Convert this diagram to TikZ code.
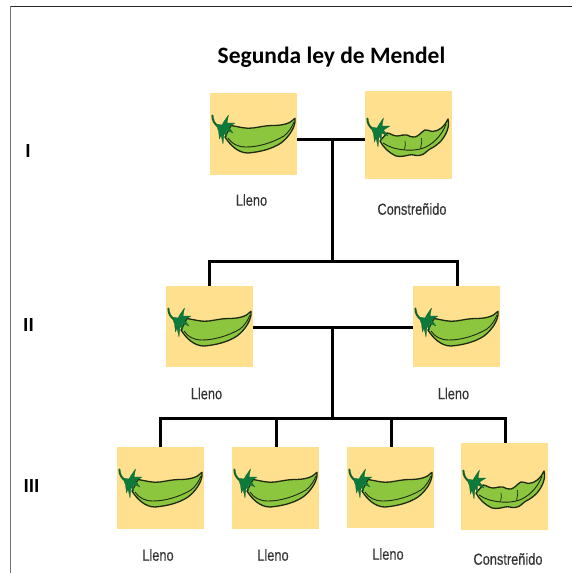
\documentclass[tikz,border=0pt]{standalone}
\usepackage{fontspec}
\setmainfont{Carlito}
\newfontfamily\labelfont[FakeStretch=0.8,FakeBold=0.3]{Liberation Sans}
\definecolor{podback}{HTML}{FEE08F}
\definecolor{podgreen}{HTML}{8CC63F}
\definecolor{calyx}{HTML}{0B7A3B}
\definecolor{podline}{HTML}{1E2A12}
\tikzset{
  x=1pt, y=-1pt,
  podbox/.style={fill=podback, draw=none, inner sep=0pt, anchor=north west},
  link/.style={line width=3pt, black},
  caption/.style={font=\labelfont\fontsize{16}{16}\selectfont, text=black!80, inner sep=0pt},
  generation/.style={font=\bfseries\fontsize{20}{20}\selectfont, inner sep=0pt},
  calyxstar/.pic={
    \draw[podline!30!calyx, line width=2pt, line cap=round] (2.4,22.5) .. controls (2.5,27) and (4,31) .. (9,34);
    \fill[calyx, draw=podline!30!calyx, line width=.3pt, line join=round]
      (6,31) -- (12,32) -- (14,28.5) -- (18.5,22) -- (17,30) -- (25,30) -- (18.5,34)
      -- (23,40) -- (16.5,37) -- (16.5,44) -- (14,40) -- (13,51) -- (11,42)
      -- (9.5,46) -- (8.5,38) -- cycle;
  },
  smoothpod/.pic={
    \fill[podgreen, draw=podline, line width=1.3pt, line join=round]
      (21,32.5) .. controls (30,34) and (36,36) .. (43,35)
      .. controls (50,34) and (56,32.5) .. (62,32.5)
      .. controls (72,32.5) and (80,31) .. (85,25.3)
      .. controls (86,33) and (80,43) .. (71,50)
      .. controls (62,56) and (50,59) .. (38,60)
      .. controls (28,60) and (20,52) .. (15,44) -- cycle;
    \draw[podline, line width=.9pt]
      (18,45) .. controls (22,51) and (28,54) .. (36,54)
      .. controls (48,54) and (62,50) .. (74,43)
      .. controls (79,39) and (82,34) .. (84,29);
    \pic {calyxstar};
  },
  wrinkledpod/.pic={
    \fill[podgreen, draw=podline, line width=1.3pt, line join=round]
      (22,42) .. controls (25,42) and (28,45) .. (32,45)
      .. controls (36,45) and (39,43) .. (42,44)
      .. controls (45,45) and (47,47) .. (50,46)
      .. controls (54,45) and (56,41) .. (60,39)
      .. controls (63,38) and (64,40.5) .. (67,40.5)
      .. controls (74,40.5) and (80,35) .. (83,28)
      .. controls (85,36) and (81,44) .. (76,50)
      .. controls (72,54) and (69,56) .. (65,58)
      .. controls (61,60) and (60,64) .. (54,64.5)
      .. controls (50,65) and (48,63) .. (44,64)
      .. controls (40,65) and (36,66) .. (31,65)
      .. controls (24,62) and (18,56) .. (15,50) -- cycle;
    \draw[podline, line width=.9pt]
      (18,52) .. controls (24,56) and (30,58) .. (40,59)
      .. controls (46,59.5) and (52,59) .. (57,57.5)
      .. controls (66,55) and (77,45) .. (81,33);
    \draw[podline, line width=.7pt]
      (40,50) .. controls (41,53) and (40,56) .. (39.5,58.5)
      (56.5,47) .. controls (57,50) and (56.5,54) .. (55.5,57.5);
    \pic[yshift=-5pt] {calyxstar};
  },
}
\begin{document}
\begin{tikzpicture}
  \useasboundingbox (0,0) rectangle (572,573);

  % page frame
  \draw[black!85, line width=1.3pt] (10.5,6.5) -- (572,6.5);
  \draw[black!55, line width=1.4pt] (10.5,573) -- (10.5,6);

  \node[font=\bfseries\fontsize{23.5}{24}\selectfont, inner sep=0pt] (title) at (331.5,57.5) {Segunda ley de Mendel};

  % generation numerals
  \node[generation] (gI)   at (28,151) {I};
  \node[generation] (gII)  at (28.5,325) {II};
  \node[generation] (gIII) at (31.5,486) {III};

  % parents
  \node[podbox, minimum width=87pt, minimum height=82pt] (a) at (210,93) {};
  \pic at (a.north west) {smoothpod};
  \node[podbox, minimum width=87pt, minimum height=88pt] (b) at (365,91) {};
  \pic at (b.north west) {wrinkledpod};
  % first filial generation
  \node[podbox, minimum width=87pt, minimum height=81pt] (c) at (166,286) {};
  \pic at (c.north west) {smoothpod};
  \node[podbox, minimum width=87pt, minimum height=81pt] (d) at (413,286) {};
  \pic at (d.north west) {smoothpod};
  % second filial generation
  \node[podbox, minimum width=87pt, minimum height=82pt] (e) at (117,447) {};
  \pic at (e.north west) {smoothpod};
  \node[podbox, minimum width=87pt, minimum height=82pt] (f) at (232,447) {};
  \pic at (f.north west) {smoothpod};
  \node[podbox, minimum width=87pt, minimum height=81pt] (g) at (347,447) {};
  \pic at (g.north west) {smoothpod};
  \node[podbox, minimum width=87pt, minimum height=87pt] (h) at (461,443) {};
  \pic at (h.north west) {wrinkledpod};

  \node[caption] (la) at (251.5,200) {Lleno};
  \node[caption] (lb) at (412,209) {Constreñido};
  \node[caption] (lc) at (206.5,393.5) {Lleno};
  \node[caption] (ld) at (453.5,393.5) {Lleno};
  \node[caption] (le) at (158,555) {Lleno};
  \node[caption] (lf) at (273,555) {Lleno};
  \node[caption] (lg) at (388,554) {Lleno};
  \node[caption] (lh) at (508,559) {Constreñido};

  % crossing lines and descent
  \coordinate (j1) at (332,139.5);
  \coordinate (j2) at (332,261);
  \coordinate (j3) at (332,327);
  \coordinate (j4) at (332,418);
  \coordinate (cdrop) at (209.5,261);
  \coordinate (ddrop) at (457,261);
  \coordinate (edrop) at (160,418.5);
  \coordinate (fdrop) at (276,418.5);
  \coordinate (gdrop) at (391,418.5);
  \coordinate (hdrop) at (505,418.5);

  \draw[link] (a.east |- j1) -- (b.west |- j1);
  \draw[link] (j1) -- (j2);
  \draw[link, line join=miter] (c.north -| cdrop) -- (cdrop) -- (ddrop) -- (d.north -| ddrop);
  \draw[link] (c.east |- j3) -- (d.west |- j3);
  \draw[link] (j3) -- (j4);
  \draw[link, line cap=rect] (edrop) -- (hdrop);
  \draw[link] (edrop) -- (e.north -| edrop);
  \draw[link] (fdrop) -- (f.north -| fdrop);
  \draw[link] (gdrop) -- (g.north -| gdrop);
  \draw[link] (hdrop) -- (h.north -| hdrop);
\end{tikzpicture}
\end{document}
